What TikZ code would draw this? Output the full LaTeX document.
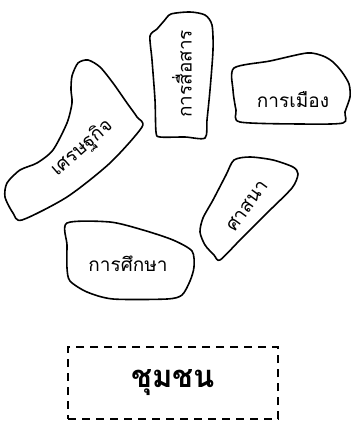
\documentclass[tikz,border=0pt]{standalone}
\usepackage{fontspec}
\newfontfamily\thaifont[Script=Thai]{Loma}
\usetikzlibrary{positioning}

\begin{document}
\begin{tikzpicture}[x=1pt,y=-1pt,
    blob/.style={line width=1.6pt,line join=round},
    label/.style={font=\thaifont\fontsize{19}{21}\selectfont,inner sep=0pt},
    community/.style={draw,line width=2pt,dash pattern=on 8pt off 6pt,
      minimum width=210pt,minimum height=72pt,font=\thaifont\bfseries\fontsize{31}{34}\selectfont}]
  \useasboundingbox (0,0) rectangle (351,425);
	  % Draw the communication blob
	  \draw[blob] plot[smooth cycle,tension=0.45] coordinates {(157,29) (164,21) (171,14) (190,12)
	      (205,15) (212,25) (213,50) (210,90) (207,120) (205,138) (185,137) (160,137)
	      (156,132) (155,100) (152,60) (150,36)};
	  \node[label,rotate=90] (comm) at (182,74) {การสื่อสาร};
	  % Draw the politics blob
	  \draw[blob] plot[smooth cycle,tension=0.45] coordinates {(234,68) (270,61) (307,53)
	      (323,56) (333,62) (342,72) (349,84) (350,97) (345,112) (343,123) (300,124)
	      (240,122) (236,110) (233,90)};
	  \node[label] (politics) at (293,100) {การเมือง};
	  % Draw the economy blob
	  \draw[blob] plot[smooth cycle,tension=0.45] coordinates {(78,63) (88,60) (100,67) (113,83)
	      (127,103) (137,117) (142,127) (110,163) (67,197) (22,220) (13,213) (5,197)
	      (7,183) (20,170) (37,163) (53,150) (67,123) (72,103) (71,90) (72,76)};
	  \node[label,rotate=41] (economy) at (82,148) {เศรษฐกิจ};
	  % Draw the religion blob
	  \draw[blob] plot[smooth cycle,tension=0.45] coordinates {(234,160) (250,157) (273,160)
	      (293,167) (298,174) (292,188) (267,213) (240,240) (220,260) (214,255) (205,245)
	      (200,232) (203,218) (213,200) (226,175)};
	  \node[label,rotate=54] (religion) at (247,206) {ศาสนา};
	  % Draw the education blob
	  \draw[blob] plot[smooth cycle,tension=0.45] coordinates {(67,223) (110,222) (143,230)
	      (173,240) (192,251) (194,267) (190,281) (182,295) (167,299) (113,299) (87,292)
	      (70,281) (67,268) (67,245)};
	  \node[label] (education) at (128,264) {การศึกษา};
	  % Draw the community box
	  \node[community] (community) at (173,383) {ชุมชน};
\end{tikzpicture}
\end{document}
